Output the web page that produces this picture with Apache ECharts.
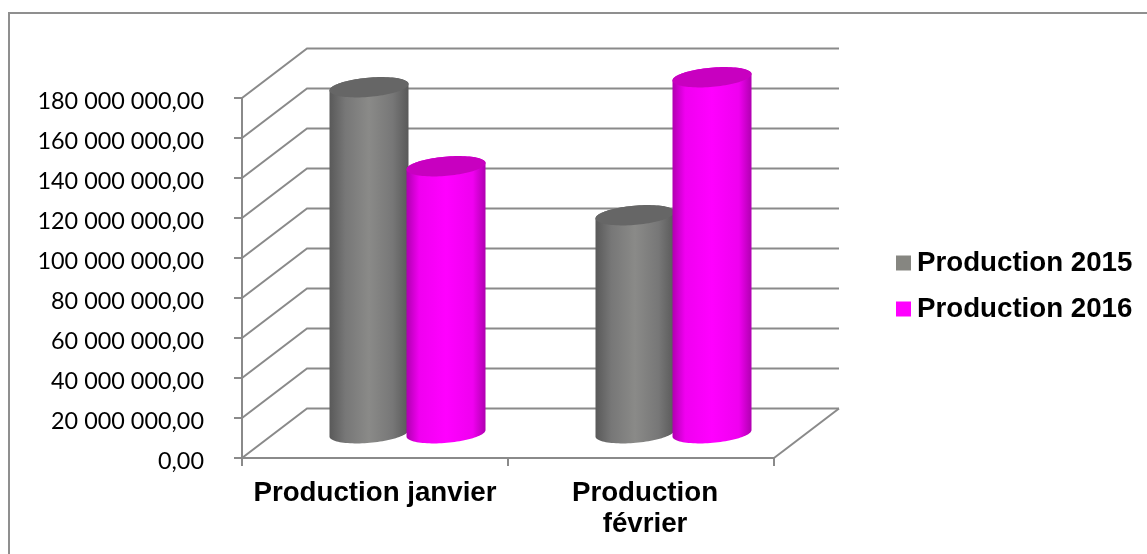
<!DOCTYPE html>
<html>
<head>
<meta charset="utf-8">
<style>
  html, body { margin: 0; padding: 0; background: #fff; }
  #chart { width: 1147px; height: 554px; }
</style>
<script src="https://cdn.jsdelivr.net/npm/echarts@6/dist/echarts.min.js"></script>
</head>
<body>
<div id="chart"></div>
<script>
const categories = ['Production janvier', 'Production\nfévrier'];
const production2015 = [173000000, 109000000];
const production2016 = [133500000, 178000000];
const valueTicks = [0, 20000000, 40000000, 60000000, 80000000, 100000000, 120000000, 140000000, 160000000, 180000000];

const LINE = '#8a8a8a';
const DEPTH_X = 65;      // horizontal reach of the oblique floor and wall lines
const DEPTH_Y = -49.5;   // vertical reach of the same lines
const BAR_WIDTH = 79;
const BAR_STEP = 38.5;   // distance from a category centre to each cylinder axis
const CAP_RY = 9.6;
const CAP_TILT = -5 * Math.PI / 180;
const BOLD_FONT = '"Liberation Sans", Arial, sans-serif';
const BOLD_SIZE = 27.7;

// "180 000 000,00": space as thousands separator, comma before two decimals
function frenchNumber(v) {
  return String(v).replace(/\B(?=(\d{3})+$)/g, ' ') + ',00';
}

// Point on a tilted ellipse centred on (cx, cy)
function ellipsePoint(cx, cy, rx, t) {
  const ex = rx * Math.cos(t), ey = CAP_RY * Math.sin(t);
  return [
    cx + ex * Math.cos(CAP_TILT) - ey * Math.sin(CAP_TILT),
    cy + ex * Math.sin(CAP_TILT) + ey * Math.cos(CAP_TILT)
  ];
}

// Cylinder standing half way into the depth of the floor
function cylinder(side, bodyStops, capColor) {
  return function (params, api) {
    const cat = api.value(0);
    const base = api.coord([cat, 0]);
    const top = api.coord([cat, api.value(1)]);
    const cx = base[0] + DEPTH_X / 2 + side * BAR_STEP;
    const yBase = base[1] + DEPTH_Y / 2;
    const yTop = top[1] + DEPTH_Y / 2;
    const rx = BAR_WIDTH / 2 / Math.cos(CAP_TILT);
    const STEPS = 48;
    const outline = [];
    // lower rim of the base, right to left, then upper part of the side up to the cap
    for (let i = 0; i <= STEPS; i++) {
      outline.push(ellipsePoint(cx, yBase, rx, Math.PI * i / STEPS));
    }
    for (let i = 0; i <= STEPS; i++) {
      outline.push(ellipsePoint(cx, yTop, rx, Math.PI + Math.PI * i / STEPS));
    }
    const cap = [];
    for (let i = 0; i < STEPS * 2; i++) {
      cap.push(ellipsePoint(cx, yTop, rx, Math.PI * i / STEPS));
    }
    return {
      type: 'group',
      children: [
        {
          type: 'polygon',
          shape: { points: outline },
          style: {
            fill: new echarts.graphic.LinearGradient(0, 0, 1, 0, bodyStops)
          }
        },
        { type: 'polygon', shape: { points: cap }, style: { fill: capColor } }
      ]
    };
  };
}

const grayStops = [
  { offset: 0, color: '#595959' },
  { offset: 0.2, color: '#777777' },
  { offset: 0.5, color: '#8a8a88' },
  { offset: 0.8, color: '#777777' },
  { offset: 1, color: '#595959' }
];
const magentaStops = [
  { offset: 0, color: '#b000b0' },
  { offset: 0.16, color: '#f000f0' },
  { offset: 0.5, color: '#ff00ff' },
  { offset: 0.84, color: '#f000f0' },
  { offset: 1, color: '#b000b0' }
];

const chart = echarts.init(document.getElementById('chart'), null, { renderer: 'canvas' });

chart.setOption({
  animation: false,
  backgroundColor: '#ffffff',
  grid: { left: 242, top: 98, width: 532, height: 360, containLabel: false },
  legend: {
    left: 891,
    top: 244,
    orient: 'vertical',
    icon: 'rect',
    itemWidth: 15,
    itemHeight: 15,
    itemGap: 18,
    textStyle: {
      fontFamily: BOLD_FONT,
      fontWeight: 'bold',
      fontSize: BOLD_SIZE,
      color: '#000',
      padding: [0, 0, 0, 1]
    },
    data: ['Production 2015', 'Production 2016']
  },
  graphic: [
    // Chart frame, open towards the right and the bottom
    {
      type: 'polyline',
      silent: true,
      shape: { points: [[9, 554], [9, 13], [1147, 13]] },
      style: { stroke: '#8f8f8f', lineWidth: 2, fill: null }
    }
  ],
  xAxis: {
    type: 'category',
    data: categories,
    boundaryGap: true,
    axisLine: { lineStyle: { color: LINE, width: 2 } },
    axisTick: { show: true, length: 8, lineStyle: { color: LINE, width: 2 } },
    axisLabel: {
      interval: 0,
      margin: 20,
      color: '#000',
      fontFamily: BOLD_FONT,
      fontWeight: 'bold',
      fontSize: BOLD_SIZE,
      lineHeight: 31,
      formatter: function (v, i) { return i === 1 ? v.split('\n').map(s => '{shift|' + s + '}').join('\n') : v; },
      rich: {
        shift: {
          padding: [0, 0, 0, 8],
          color: '#000',
          fontFamily: BOLD_FONT,
          fontWeight: 'bold',
          fontSize: BOLD_SIZE,
          lineHeight: 31
        }
      }
    }
  },
  yAxis: {
    type: 'value',
    min: 0,
    max: 180000000,
    interval: 20000000,
    axisLine: { show: true, lineStyle: { color: LINE, width: 2 } },
    axisTick: { show: true, length: 8, lineStyle: { color: LINE, width: 2 } },
    splitLine: { show: false },
    axisLabel: {
      margin: 38,
      color: '#000',
      fontFamily: 'Lato, sans-serif',
      fontSize: 23.4,
      verticalAlign: 'top',
      lineHeight: 7,
      formatter: frenchNumber
    }
  },
  series: [
    {
      // Side wall and back wall gridlines, one pair per value tick
      type: 'custom',
      name: 'walls',
      silent: true,
      z: 1,
      clip: false,
      data: valueTicks.map(v => [0, v]),
      encode: { x: 0, y: 1 },
      renderItem: function (params, api) {
        const grid = params.coordSys;
        const y = api.coord([0, api.value(1)])[1];
        const left = grid.x, right = grid.x + grid.width;
        const kneeX = left + DEPTH_X, kneeY = y + DEPTH_Y;
        const lineStyle = { stroke: LINE, lineWidth: 2, fill: null };
        const children = [{
          type: 'polyline',
          shape: { points: [[left, y], [kneeX, kneeY], [right + DEPTH_X, kneeY]] },
          style: lineStyle
        }];
        if (api.value(1) === 0) {
          // Right edge of the floor
          children.push({
            type: 'line',
            shape: { x1: right, y1: y, x2: right + DEPTH_X, y2: kneeY },
            style: lineStyle
          });
        }
        return { type: 'group', children: children };
      }
    },
    {
      type: 'custom',
      name: 'Production 2015',
      z: 2,
      clip: false,
      itemStyle: { color: '#868681' },
      data: production2015.map((v, i) => [i, v]),
      encode: { x: 0, y: 1 },
      renderItem: cylinder(-1, grayStops, '#666666')
    },
    {
      type: 'custom',
      name: 'Production 2016',
      z: 3,
      clip: false,
      itemStyle: { color: '#ff00ff' },
      data: production2016.map((v, i) => [i, v]),
      encode: { x: 0, y: 1 },
      renderItem: cylinder(1, magentaStops, '#c800c0')
    }
  ]
});
</script>
</body>
</html>
